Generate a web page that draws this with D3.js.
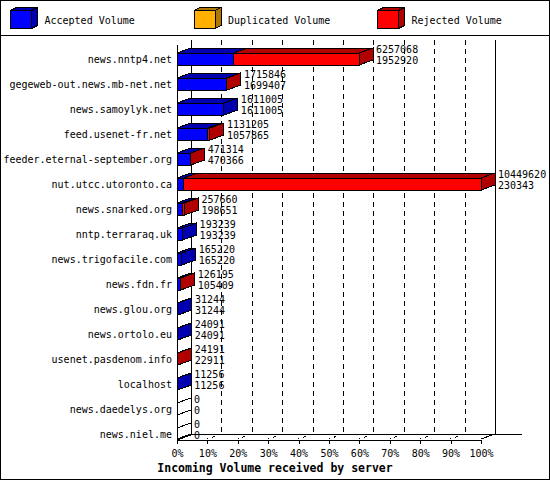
<!DOCTYPE html>
<html lang="en">
<head>
    <meta charset="UTF-8">
    <title>Incoming Volume received by server</title>
    <style>
        body { margin: 0; background: #fff; }
        svg { display: block; }
        text { font-family: "DejaVu Sans Mono", monospace; font-size: 10px; fill: #000; }
        .title { font-weight: bold; font-size: 11.5px; }
    </style>
</head>
<body>
<div id="chart"></div>
<script src="https://d3js.org/d3.v7.min.js"></script>
<script>
// Data
const hosts = [
    'news.nntp4.net', 'gegeweb-out.news.mb-net.net', 'news.samoylyk.net', 'feed.usenet-fr.net',
    'feeder.eternal-september.org', 'nut.utcc.utoronto.ca', 'news.snarked.org', 'nntp.terraraq.uk',
    'news.trigofacile.com', 'news.fdn.fr', 'news.glou.org', 'news.ortolo.eu',
    'usenet.pasdenom.info', 'localhost', 'news.daedelys.org', 'news.niel.me'
];
const offered = [6257068, 1715846, 1611005, 1131205, 471314, 10449620, 257660, 193239,
    165220, 126195, 31244, 24091, 24191, 11256, 0, 0];
const accepted = [1952920, 1699407, 1611005, 1057865, 470366, 230343, 198651, 193239,
    165220, 105409, 31244, 24091, 22911, 11256, 0, 0];
const duplicated = [0, 0, 0, 0, 0, 0, 0, 0, 0, 0, 0, 0, 0, 0, 0, 0];
const legendLabels = ['Accepted Volume', 'Duplicated Volume', 'Rejected Volume'];
const percentTicks = [0, 0.1, 0.2, 0.3, 0.4, 0.5, 0.6, 0.7, 0.8, 0.9, 1];

const W = 550, H = 480;
const colors = [
    { front: '#0000ff', dark: '#0000b0' },
    { front: '#ffb000', dark: '#b07800' },
    { front: '#ff0000', dark: '#b00000' }
];

// 3d geometry
const x0 = 177, dx = 14, dy = 5, plotW = 304;
const backTop = 40, floorY = 439;

const svg = d3.select('#chart').append('svg')
    .attr('width', W).attr('height', H)
    .attr('shape-rendering', 'crispEdges');

svg.append('rect').attr('x', 0.5).attr('y', 0.5).attr('width', W - 1).attr('height', H - 1)
    .attr('fill', '#fff').attr('stroke', '#000');
svg.append('line').attr('x1', 0).attr('x2', W).attr('y1', 35.5).attr('y2', 35.5).attr('stroke', '#000');

function box(g, xa, xb, yt, yb, c, ox, oy) {
    const pts = a => a.map(p => p.join(',')).join(' ');
    g.append('rect').attr('x', xa).attr('y', yt).attr('width', xb - xa).attr('height', yb - yt)
        .attr('fill', c.front).attr('stroke', '#000');
    g.append('polygon').attr('points', pts([[xa, yt], [xa + ox, yt - oy], [xb + ox, yt - oy], [xb, yt]]))
        .attr('fill', c.dark).attr('stroke', '#000');
    g.append('polygon').attr('points', pts([[xb, yt], [xb + ox, yt - oy], [xb + ox, yb - oy], [xb, yb]]))
        .attr('fill', c.dark).attr('stroke', '#000');
}

// legend
const legend = svg.append('g');
legendLabels.forEach((lab, i) => {
    const lx = 10.5 + i * 183.5;
    box(legend, lx, lx + 21, 10.5, 28.5, colors[i], 6, 3);
    legend.append('text').attr('x', lx + 34).attr('y', 20).attr('dy', '0.35em').text(lab);
});

// scales
const x = d3.scaleLinear().domain([0, d3.max(offered)]).range([0, plotW]);
const pct = d3.scaleLinear().domain([0, 1]).range([0, plotW]);
const y = d3.scalePoint().domain(hosts).range([59, 434]);

// walls and grid
const walls = svg.append('g').attr('stroke', '#000').attr('fill', 'none');
percentTicks.slice(1, -1).forEach(p => {
    const xb = x0 + dx + pct(p);
    walls.append('line').attr('x1', xb + 0.5).attr('x2', xb + 0.5).attr('y1', backTop).attr('y2', floorY - dy)
        .attr('stroke-dasharray', '5,4');
    walls.append('line').attr('x1', xb).attr('y1', floorY - dy).attr('x2', xb - dx).attr('y2', floorY)
        .attr('stroke-dasharray', '3,4');
});
walls.append('line').attr('x1', x0 + dx + 0.5).attr('x2', x0 + dx + 0.5).attr('y1', backTop).attr('y2', floorY - dy);
walls.append('line').attr('x1', x0 + dx + plotW + 0.5).attr('x2', x0 + dx + plotW + 0.5).attr('y1', backTop).attr('y2', floorY - dy);
walls.append('line').attr('x1', x0 + dx).attr('x2', 522).attr('y1', floorY - dy + 0.5).attr('y2', floorY - dy + 0.5);
walls.append('line').attr('x1', x0 + 0.5).attr('x2', x0 + 0.5).attr('y1', backTop + dy).attr('y2', floorY);
walls.append('line').attr('x1', x0).attr('y1', floorY).attr('x2', x0 + dx).attr('y2', floorY - dy);
walls.append('line').attr('x1', x0 + plotW).attr('y1', floorY).attr('x2', x0 + plotW + dx).attr('y2', floorY - dy);

// bars
const bars = svg.append('g');
hosts.forEach((h, i) => {
    const c = y(h);
    const yt = c - 6, yb = c + 6;
    if (offered[i] === 0) {
        bars.append('line').attr('x1', x0).attr('y1', yt).attr('x2', x0 + dx).attr('y2', yt - dy).attr('stroke', '#000');
        bars.append('line').attr('x1', x0).attr('y1', yb).attr('x2', x0 + dx).attr('y2', yb - dy).attr('stroke', '#000');
    } else {
        const segs = [accepted[i], duplicated[i], offered[i] - accepted[i] - duplicated[i]];
        let acc = 0;
        segs.forEach((v, k) => {
            if (v <= 0) return;
            box(bars, x0 + x(acc), x0 + x(acc + v), yt, yb, colors[k], dx, dy);
            acc += v;
        });
    }
    const tx = x0 + dx + x(offered[i]) + 3;
    bars.append('text').attr('x', tx).attr('y', c - 9.5).attr('dy', '0.35em').text(offered[i]);
    bars.append('text').attr('x', tx).attr('y', c + 1.5).attr('dy', '0.35em').text(accepted[i]);
    bars.append('text').attr('x', 172).attr('y', c).attr('dy', '0.35em')
        .attr('text-anchor', 'end').text(h);
});

// front floor axis
const axis = svg.append('g')
    .attr('transform', `translate(${x0},${floorY + 0.5})`)
    .call(d3.axisBottom(pct).tickValues(percentTicks).tickSize(4).tickSizeOuter(0)
        .tickPadding(6).tickFormat(d => Math.round(d * 100) + '%'));
axis.selectAll('path,line').attr('stroke', '#000');
axis.selectAll('text').attr('font-family', '"DejaVu Sans Mono", monospace').attr('font-size', 10);

svg.append('text').attr('class', 'title').attr('x', W / 2).attr('y', 468).attr('dy', '0.35em')
    .attr('text-anchor', 'middle').text('Incoming Volume received by server');
</script>
</body>
</html>
